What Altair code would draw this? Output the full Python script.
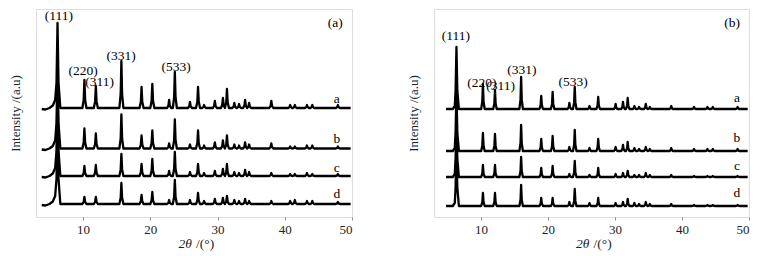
import altair as alt
import pandas as pd

# ---------------- data ----------------
# Panel (a): peak positions (2theta, deg) shared by all traces
pos_a = [6.2, 10.2, 11.9, 15.7, 18.7, 20.3, 22.8, 23.65, 25.9, 27.1, 28.0, 29.6, 30.8, 31.4,
         32.5, 33.2, 34.1, 34.7, 38.0, 40.8, 41.5, 43.3, 44.1, 47.9]
ha_a = [85, 28, 22, 47, 21, 24, 8, 36, 6, 21, 3, 7, 10, 19, 5, 4, 8, 5, 7, 3, 3, 3, 3, 3]
ha_b = [85, 20, 15, 34, 13, 18, 5, 29, 4, 18, 3, 6, 8, 13, 4, 3, 6, 4, 5, 2, 2, 3, 3, 2]
ha_c = [85, 10, 11, 22, 12, 17, 5, 24, 4, 12, 3, 5, 7, 12, 4, 3, 6, 4, 3, 2, 2, 3, 2, 2]
ha_d = [85, 7, 7, 21, 9, 12, 4, 24, 4, 11, 3, 5, 6, 8, 4, 3, 5, 3, 3, 3, 4, 3, 3, 2]
offsets_a = {"a": 109, "b": 68.5, "c": 41, "d": 13}

# Panel (b)
pos_b = [6.35, 10.3, 12.1, 16.0, 19.0, 20.7, 23.2, 24.0, 26.2, 27.5, 30.1, 31.2, 31.9, 32.9,
         33.6, 34.6, 35.2, 38.4, 41.8, 43.8, 44.6, 48.3]
hb_a = [62, 25, 19, 32, 13, 17, 6, 22, 3, 12, 5, 7, 11, 3, 2, 5, 2, 3, 2, 2, 2, 2]
hb_b = [62, 18, 17, 26, 12, 15, 4, 21, 3, 12, 4, 6, 9, 3, 2, 4, 2, 3, 2, 2, 2, 2]
hb_c = [62, 12, 12, 20, 9, 11, 3, 16, 2, 9, 3, 4, 6, 2, 2, 4, 2, 2, 1, 1, 1, 1]
hb_d = [62, 13, 13, 21, 8, 8, 4, 17, 3, 8, 3, 4, 7, 3, 2, 4, 2, 2, 1, 1, 1, 1]
offsets_b = {"a": 108, "b": 66, "c": 40, "d": 11}

# hkl annotations: (label, 2theta, intensity position)
hkl_a = [("(111)", 6.42, 201), ("(220)", 10.0, 146), ("(311)", 12.45, 135),
         ("(331)", 15.65, 161), ("(533)", 23.83, 150)]
hkl_b = [("(111)", 6.28, 181), ("(220)", 10.15, 134), ("(311)", 12.95, 131),
         ("(331)", 16.1, 147), ("(533)", 23.75, 135)]
trace_lbl_a = [("a", 47.75, 118), ("b", 47.75, 78), ("c", 47.75, 49), ("d", 47.75, 23)]
trace_lbl_b = [("a", 48.2, 119), ("b", 48.2, 79), ("c", 48.2, 51), ("d", 48.2, 24)]

# start of the (111) reflection (hook / shoulder), relative to baseline
lead_a = [(3.85, -1.0), (4.4, -1.5), (5.0, 0), (5.5, 2.5), (5.85, 8)]
lead_b = [(4.8, 0), (5.8, 0), (6.1, 3)]

FONT = "Times New Roman, Liberation Serif, serif"
GREY = "#8c8c8c"


def build(positions, heights, offset, lead, hw, end=49.8):
    pts = [(x, offset + y) for x, y in lead]
    for i, (p, h) in enumerate(zip(positions, heights)):
        w = hw * (1.4 if i == 0 else 1.0)
        if i > 0:
            pts.append((p - w, offset))
        pts.append((p - w * 0.35, offset + h * 0.3))
        pts.append((p, offset + h))
        pts.append((p + w * 0.35, offset + h * 0.3))
        pts.append((p + w, offset))
    pts.append((end, offset))
    return pts


def panel(positions, hsets, offsets, lead, hw, hkl, tl, tag, width):
    rows = []
    for name, hs in hsets.items():
        for k, (x, y) in enumerate(build(positions, hs, offsets[name], lead, hw)):
            rows.append({"theta": x, "y": y, "trace": name, "k": k})
    df = pd.DataFrame(rows)
    xsc = alt.Scale(domain=[3, 50], nice=False)
    ysc = alt.Scale(domain=[0, 208], nice=False)
    lines = alt.Chart(df).mark_line(color="black", strokeWidth=2.3, strokeJoin="round").encode(
        x=alt.X("theta:Q", scale=xsc,
                axis=alt.Axis(values=[10, 20, 30, 40, 50], grid=False, domain=False,
                              tickColor=GREY, tickSize=3, labelFont=FONT, labelFontSize=13,
                              labelColor="#222", labelPadding=3, title=None)),
        y=alt.Y("y:Q", scale=ysc,
                axis=alt.Axis(labels=False, ticks=False, grid=False, domain=False,
                              title="Intensity /(a.u)", titleFont=FONT, titleFontSize=13,
                              titleFontWeight="normal", titleColor="#222", titlePadding=14)),
        detail="trace:N",
        order="k:Q",
    )
    hdf = pd.DataFrame(hkl, columns=["t", "x", "y"])
    htext = alt.Chart(hdf).mark_text(font=FONT, fontSize=13.5, color="black").encode(
        x=alt.X("x:Q", scale=xsc), y=alt.Y("y:Q", scale=ysc), text="t:N")
    tdf = pd.DataFrame(tl + [(tag, 47.5, 194)], columns=["t", "x", "y"])
    ttext = alt.Chart(tdf).mark_text(font=FONT, fontSize=13.5, color="black").encode(
        x=alt.X("x:Q", scale=xsc), y=alt.Y("y:Q", scale=ysc), text="t:N")
    cx = width / 2
    xt1 = alt.Chart(pd.DataFrame({"t": ["2θ"]})).mark_text(
        font=FONT, fontSize=13.5, fontStyle="italic", align="right", color="#222").encode(
        x=alt.value(cx - 2), y=alt.value(235), text="t:N")
    xt2 = alt.Chart(pd.DataFrame({"t": ["/(°)"]})).mark_text(
        font=FONT, fontSize=13.5, align="left", color="#222").encode(
        x=alt.value(cx + 2), y=alt.value(235), text="t:N")
    return alt.layer(lines, htext, ttext, xt1, xt2).properties(width=width, height=208)


pa = panel(pos_a, {"a": ha_a, "b": ha_b, "c": ha_c, "d": ha_d}, offsets_a, lead_a, 0.3,
           hkl_a, trace_lbl_a, "(a)", 316)
pb = panel(pos_b, {"a": hb_a, "b": hb_b, "c": hb_c, "d": hb_d}, offsets_b, lead_b, 0.26,
           hkl_b, trace_lbl_b, "(b)", 315)

chart = alt.hconcat(pa, pb, spacing=53).properties(padding=0).configure_view(
    stroke=GREY, strokeWidth=1).configure(background="white")

chart.save("out.html", embed_options={"renderer": "svg", "actions": False})
